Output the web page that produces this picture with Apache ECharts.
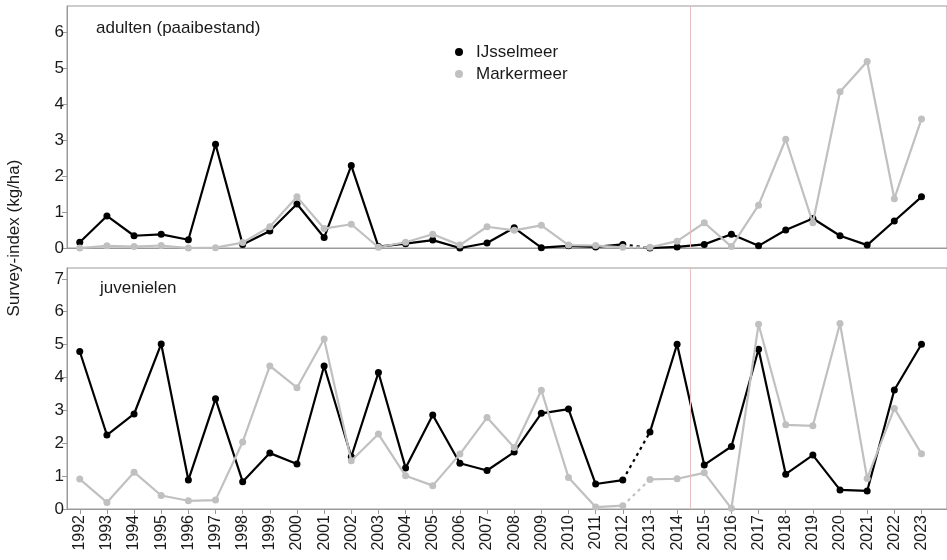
<!DOCTYPE html>
<html>
<head>
<meta charset="utf-8">
<script src="https://cdn.jsdelivr.net/npm/echarts@6/dist/echarts.min.js"></script>
<style>html,body{margin:0;padding:0;background:#fff;}#c{width:947px;height:560px;}</style>
</head>
<body>
<div id="c"></div>
<script>
var years = [1992,1993,1994,1995,1996,1997,1998,1999,2000,2001,2002,2003,2004,2005,2006,2007,2008,2009,2010,2011,2012,2013,2014,2015,2016,2017,2018,2019,2020,2021,2022,2023];
var adultIJ = [0.16,0.89,0.34,0.38,0.23,2.88,0.10,0.47,1.22,0.29,2.29,0.04,0.12,0.22,0.00,0.14,0.56,0.01,0.06,0.03,0.10,0.00,0.03,0.10,0.38,0.06,0.50,0.82,0.34,0.08,0.75,1.42];
var adultMM = [0.00,0.06,0.04,0.07,0.00,0.01,0.15,0.59,1.42,0.54,0.66,0.02,0.16,0.38,0.08,0.59,0.49,0.63,0.08,0.07,0.02,0.02,0.19,0.70,0.04,1.19,3.02,0.70,4.34,5.18,1.37,3.58];
var juvIJ = [4.79,2.25,2.89,5.02,0.88,3.35,0.83,1.70,1.37,4.35,1.59,4.15,1.25,2.86,1.39,1.17,1.73,2.91,3.04,0.76,0.88,2.34,5.01,1.34,1.90,4.86,1.06,1.64,0.58,0.55,3.62,5.01];
var juvMM = [0.91,0.20,1.12,0.41,0.25,0.27,2.04,4.35,3.69,5.17,1.47,2.28,1.01,0.71,1.67,2.78,1.87,3.61,0.96,0.06,0.10,0.90,0.92,1.10,0.02,5.62,2.56,2.53,5.64,0.93,3.06,1.68];
var gapFrom = 2012, gapTo = 2013;
var refYear = 2014.5;
var yTicksTop = [0,1,2,3,4,5,6];
var yTicksBottom = [0,1,2,3,4,5,6,7];
var seriesNames = ['IJsselmeer','Markermeer'];
var panelTitles = ['adulten (paaibestand)','juvenielen'];
var yTitle = 'Survey-index (kg/ha)';

var BLACK = '#000000', GREY = '#c0c0c0', AXIS = '#9a9a9a', TXT = '#1a1a1a';
var FONT = '"Liberation Sans", Arial, sans-serif';

function pairs(vals, from, to) {
  var out = [];
  for (var i = 0; i < years.length; i++) {
    if (years[i] >= from && years[i] <= to) out.push([years[i], vals[i]]);
  }
  return out;
}
function lakeSeries(name, vals, color, gi, z) {
  var base = {
    name: name, type: 'line', xAxisIndex: gi, yAxisIndex: gi, z: z,
    color: color, symbol: 'circle', symbolSize: 7, silent: true, animation: false,
    lineStyle: {color: color, width: 2.2}, itemStyle: {color: color}
  };
  var a = Object.assign({}, base, {data: pairs(vals, years[0], gapFrom)});
  var b = Object.assign({}, base, {data: pairs(vals, gapFrom, gapTo), showSymbol: false, symbol: 'none',
    lineStyle: {color: color, width: 2.2, type: [3, 4]}});
  var c = Object.assign({}, base, {data: pairs(vals, gapTo, years[years.length - 1])});
  return [a, b, c];
}

var xMin = 1991.53, xMax = 2023.94;
function xAxis(gi, showLabels) {
  return {
    type: 'value', gridIndex: gi, min: xMin, max: xMax,
    axisLine: {show: true, lineStyle: {color: AXIS, width: 1}},
    splitLine: {show: false},
    axisTick: {show: showLabels, length: 5, lineStyle: {color: AXIS}, customValues: years},
    axisLabel: {show: showLabels, rotate: 90, margin: 6, fontSize: 16, color: TXT, fontFamily: FONT,
      customValues: years, formatter: function (v) { return String(Math.round(v)); }}
  };
}
function yAxis(gi, max, ticks) {
  return {
    type: 'value', gridIndex: gi, min: 0, max: max,
    axisLine: {show: true, lineStyle: {color: AXIS, width: 1}},
    splitLine: {show: false},
    axisTick: {show: true, length: 5, lineStyle: {color: AXIS}, customValues: ticks},
    axisLabel: {show: true, margin: 3, fontSize: 17, color: TXT, fontFamily: FONT, customValues: ticks}
  };
}
function refLine(gi) {
  return {
    name: 'ref', type: 'line', data: [], silent: true, z: 1,
    xAxisIndex: gi, yAxisIndex: gi,
    markLine: {silent: true, symbol: 'none', label: {show: false}, animation: false,
      lineStyle: {color: '#ffb4b4', type: 'solid', width: 1, opacity: 1},
      emphasis: {disabled: true},
      data: [{xAxis: refYear}]}
  };
}

var series = [];
series = series.concat(lakeSeries(seriesNames[0], adultIJ, BLACK, 0, 3));
series = series.concat(lakeSeries(seriesNames[1], adultMM, GREY, 0, 4));
series = series.concat(lakeSeries(seriesNames[0], juvIJ, BLACK, 1, 3));
series = series.concat(lakeSeries(seriesNames[1], juvMM, GREY, 1, 4));
series.push(refLine(0), refLine(1));

var option = {
  backgroundColor: '#ffffff',
  animation: false,
  grid: [
    {left: 67, top: 6, width: 900, height: 242, show: true, borderColor: AXIS, borderWidth: 1, containLabel: false},
    {left: 67, top: 268, width: 900, height: 241, show: true, borderColor: AXIS, borderWidth: 1, containLabel: false}
  ],
  xAxis: [xAxis(0, false), xAxis(1, true)],
  yAxis: [yAxis(0, 6.72, yTicksTop), yAxis(1, 7.33, yTicksBottom)],
  legend: {
    data: seriesNames, orient: 'vertical', left: 450, top: 38,
    icon: 'circle', itemWidth: 8, itemHeight: 8, itemGap: 4,
    selectedMode: false,
    textStyle: {fontSize: 17, color: TXT, fontFamily: FONT, padding: [0, 0, 0, 8], lineHeight: 18}
  },
  graphic: [
    {type: 'text', x: 96, y: 28, style: {text: panelTitles[0], fontSize: 17, fill: TXT, fontFamily: FONT, textVerticalAlign: 'middle'}},
    {type: 'text', x: 100, y: 288, style: {text: panelTitles[1], fontSize: 17, fill: TXT, fontFamily: FONT, textVerticalAlign: 'middle'}},
    {type: 'text', x: 14, y: 238, rotation: Math.PI / 2, style: {text: yTitle, fontSize: 17, fill: TXT, fontFamily: FONT, textAlign: 'center', textVerticalAlign: 'middle'}}
  ],
  series: series
};
var chart = echarts.init(document.getElementById('c'), null, {renderer: 'canvas'});
chart.setOption(option);
</script>
</body>
</html>
